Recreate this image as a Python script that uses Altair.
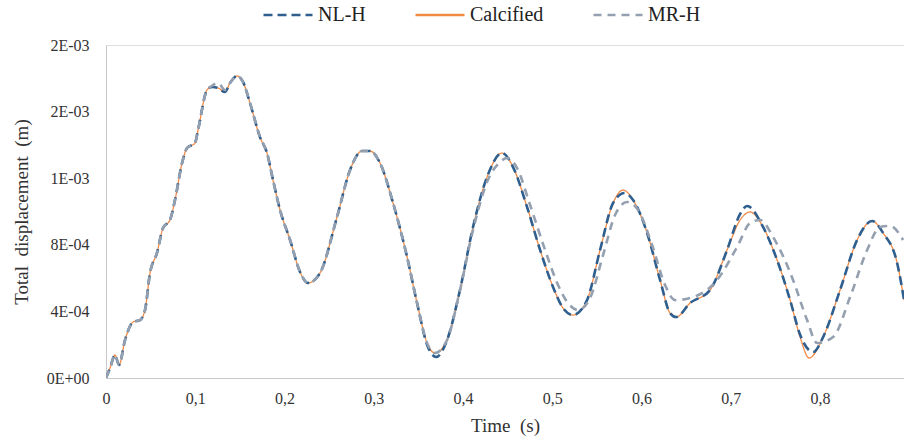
import altair as alt
import pandas as pd

series_names = ["NL-H", "Calcified", "MR-H"]
series_colors = ["#2f5f8f", "#F08A45", "#94a0b0"]
series_dash = [[9, 5], [1, 0], [8, 6]]
series_width = [2.6, 1.3, 2.6]

# Calcified (time s, displacement in 1e-4 m)
calc_t = [0, 0.0045, 0.0101, 0.0146, 0.0213, 0.0303, 0.0381, 0.0437, 0.0493, 0.0571,
          0.0639, 0.0717, 0.0773, 0.0852, 0.0908, 0.0997, 0.1031, 0.1132, 0.1188, 0.1255,
          0.1333, 0.1389, 0.1468, 0.1535, 0.1613, 0.1725, 0.1804, 0.1871, 0.1950, 0.2062,
          0.2174, 0.2263, 0.2398, 0.2588, 0.2734, 0.2868, 0.2958, 0.3070, 0.3216, 0.3373,
          0.3485, 0.3597, 0.3686, 0.3821, 0.3966, 0.4112, 0.4269, 0.4437, 0.4560, 0.4717,
          0.4863, 0.5008, 0.5120, 0.5232, 0.5389, 0.5535, 0.5681, 0.5793, 0.5905, 0.6062,
          0.6207, 0.6319, 0.6387, 0.6543, 0.6768, 0.6958, 0.7104, 0.7216, 0.7361, 0.7518,
          0.7664, 0.7776, 0.7877, 0.8034, 0.8224, 0.8415, 0.8583, 0.8706, 0.8863, 0.8941]
calc_v = [0, 0.60, 1.38, 0.78, 2.28, 3.36, 3.48, 4.08, 6.31, 7.51,
          9.01, 9.49, 10.69, 12.91, 13.81, 14.11, 14.89, 17.30, 17.48, 17.42,
          17.18, 17.72, 18.14, 17.78, 16.52, 14.47, 13.51, 11.89, 10.09, 8.29,
          6.37, 5.71, 6.31, 9.67, 12.49, 13.63, 13.63, 12.91, 10.51, 7.27,
          4.50, 2.10, 1.50, 2.28, 5.29, 9.07, 12.07, 13.51, 12.67, 10.27,
          7.69, 5.47, 4.20, 3.78, 4.68, 7.69, 10.51, 11.29, 10.69, 8.71,
          5.89, 3.90, 3.66, 4.50, 5.29, 7.69, 9.49, 9.97, 9.07, 7.09,
          4.68, 2.46, 1.20, 2.46, 5.29, 8.29, 9.43, 8.71, 6.91, 4.68]

# NL-H
nlh_t = [0, 0.0045, 0.0101, 0.0146, 0.0213, 0.0303, 0.0381, 0.0437, 0.0493, 0.0571,
         0.0639, 0.0717, 0.0773, 0.0852, 0.0908, 0.0997, 0.1031, 0.1132, 0.1188, 0.1255,
         0.1333, 0.1389, 0.1468, 0.1535, 0.1613, 0.1725, 0.1804, 0.1871, 0.1950, 0.2062,
         0.2174, 0.2263, 0.2398, 0.2588, 0.2734, 0.2868, 0.2958, 0.3070, 0.3216, 0.3373,
         0.3485, 0.3597, 0.3700, 0.3821, 0.3966, 0.4112, 0.4269, 0.4437, 0.4560, 0.4717,
         0.4863, 0.5008, 0.5120, 0.5232, 0.5389, 0.5535, 0.5681, 0.5810, 0.5905, 0.6062,
         0.6207, 0.6319, 0.6387, 0.6543, 0.6768, 0.6958, 0.7104, 0.7182, 0.7361, 0.7518,
         0.7664, 0.7776, 0.7922, 0.8034, 0.8224, 0.8415, 0.8583, 0.8706, 0.8863, 0.8941]
nlh_v = [0, 0.60, 1.38, 0.78, 2.28, 3.36, 3.48, 4.08, 6.31, 7.51,
         9.01, 9.49, 10.69, 12.91, 13.81, 14.11, 14.89, 17.30, 17.48, 17.42,
         17.18, 17.72, 18.14, 17.78, 16.52, 14.47, 13.51, 11.89, 10.09, 8.29,
         6.37, 5.71, 6.31, 9.67, 12.49, 13.63, 13.63, 12.91, 10.51, 7.27,
         4.50, 2.00, 1.26, 2.28, 5.29, 9.07, 12.07, 13.51, 12.67, 10.27,
         7.69, 5.47, 4.20, 3.78, 4.68, 7.69, 10.51, 11.11, 10.69, 8.71,
         5.89, 3.90, 3.66, 4.50, 5.29, 7.69, 9.85, 10.33, 9.07, 7.09,
         4.68, 2.60, 1.56, 2.46, 5.29, 8.29, 9.43, 8.71, 6.91, 4.68]

# MR-H
mrh_t = [0, 0.0045, 0.0101, 0.0146, 0.0213, 0.0303, 0.0381, 0.0437, 0.0493, 0.0571,
         0.0639, 0.0717, 0.0773, 0.0852, 0.0908, 0.0997, 0.1031, 0.1132, 0.1188, 0.1255,
         0.1333, 0.1389, 0.1468, 0.1535, 0.1613, 0.1725, 0.1804, 0.1871, 0.1950, 0.2062,
         0.2174, 0.2263, 0.2398, 0.2588, 0.2734, 0.2868, 0.2958, 0.3070, 0.3216, 0.3373,
         0.3485, 0.3597, 0.3686, 0.3821, 0.3966, 0.4112, 0.4269, 0.4415, 0.4493, 0.4605,
         0.4751, 0.4919, 0.5064, 0.5176, 0.5289, 0.5423, 0.5569, 0.5703, 0.5838, 0.5961,
         0.6118, 0.6263, 0.6375, 0.6577, 0.6846, 0.7070, 0.7216, 0.7328, 0.7473, 0.7697,
         0.7854, 0.7966, 0.8146, 0.8336, 0.8527, 0.8672, 0.8784, 0.8930]
mrh_v = [0, 0.60, 1.38, 0.78, 2.28, 3.36, 3.48, 4.08, 6.31, 7.51,
         9.01, 9.49, 10.69, 12.91, 13.81, 14.11, 14.89, 17.30, 17.55, 17.72,
         17.30, 17.72, 18.14, 17.78, 16.52, 14.47, 13.51, 11.89, 10.09, 8.29,
         6.37, 5.71, 6.31, 9.67, 12.49, 13.63, 13.63, 12.91, 10.51, 7.27,
         4.50, 2.10, 1.50, 2.28, 5.29, 8.89, 11.77, 12.97, 13.21, 12.61,
         10.39, 7.69, 5.59, 4.50, 4.08, 4.80, 7.39, 9.79, 10.57, 10.09,
         7.99, 5.59, 4.68, 4.86, 5.89, 7.87, 9.31, 9.49, 8.47, 5.89,
         3.48, 2.10, 2.46, 4.86, 7.69, 9.07, 9.13, 8.29]

y_ticks = [0, 0.0004, 0.0008, 0.0012, 0.0016, 0.002]
y_labels = ["0E+00", "4E-04", "8E-04", "1E-03", "2E-03", "2E-03"]
x_ticks = [0, 0.1, 0.2, 0.3, 0.4, 0.5, 0.6, 0.7, 0.8]
x_title = "Time\u00a0\u00a0(s)"
y_title = "Total\u00a0\u00a0displacement\u00a0\u00a0(m)"

def frame(name, ts, vs):
    return pd.DataFrame({"series": name, "t": ts, "d": [v * 1e-4 for v in vs],
                         "i": list(range(len(ts)))})

frames = {"Calcified": frame("Calcified", calc_t, calc_v),
          "NL-H": frame("NL-H", nlh_t, nlh_v),
          "MR-H": frame("MR-H", mrh_t, mrh_v)}

expr = "''"
for val, lab in reversed(list(zip(y_ticks, y_labels))):
    expr = f"abs(datum.value - {val}) < 0.0001 ? '{lab}' : " + expr
y_expr = expr

FONT = "Liberation Serif, Times New Roman, serif"

legend = alt.Legend(title=None, orient="none", legendX=156, legendY=-56,
                    direction="horizontal", symbolType="stroke",
                    symbolSize=2400, symbolStrokeWidth=2.6,
                    labelFont=FONT, labelFontSize=20, labelColor="#222222",
                    columnPadding=44, labelOffset=4)

x_enc = alt.X("t:Q", scale=alt.Scale(domain=[0, 0.894], nice=False, zero=False),
              axis=alt.Axis(values=x_ticks, title=x_title,
                            labelExpr="replace(format(datum.value, '.1~f'), '.', ',')",
                            ticks=False, grid=False, labelPadding=12, titlePadding=10,
                            domainColor="#c8c8c8", labelFontSize=16, titleFontSize=19,
                            labelColor="#333333", titleColor="#333333", labelFont=FONT,
                            titleFont=FONT, titleFontWeight="normal", labelFlush=False))
y_enc = alt.Y("d:Q", scale=alt.Scale(domain=[0, 0.002], nice=False),
              axis=alt.Axis(values=y_ticks, labelExpr=y_expr, title=y_title,
                            ticks=False, grid=False, labelPadding=17, titlePadding=15,
                            domainColor="#c8c8c8", labelFontSize=16, titleFontSize=19,
                            labelColor="#333333", titleColor="#333333", labelFont=FONT,
                            titleFont=FONT, titleFontWeight="normal"))
color_enc = alt.Color("series:N", scale=alt.Scale(domain=series_names, range=series_colors), legend=legend)
dash_enc = alt.StrokeDash("series:N", scale=alt.Scale(domain=series_names, range=series_dash), legend=legend)

def layer(name):
    w = series_width[series_names.index(name)]
    return alt.Chart(frames[name]).mark_line(interpolate="monotone", clip=True, strokeWidth=w).encode(
        x=x_enc, y=y_enc, color=color_enc, strokeDash=dash_enc, order="i:Q")

chart = alt.layer(layer("Calcified"), layer("NL-H"), layer("MR-H")).properties(
    width=798, height=333,
    autosize=alt.AutoSizeParams(type="none"),
    padding={"left": 106, "top": 45, "right": 0, "bottom": 67},
).configure_view(stroke="#d0d0d0", strokeWidth=1).configure(background="white", font=FONT)

chart.save("out.html", embed_options={"renderer": "svg", "actions": False})
